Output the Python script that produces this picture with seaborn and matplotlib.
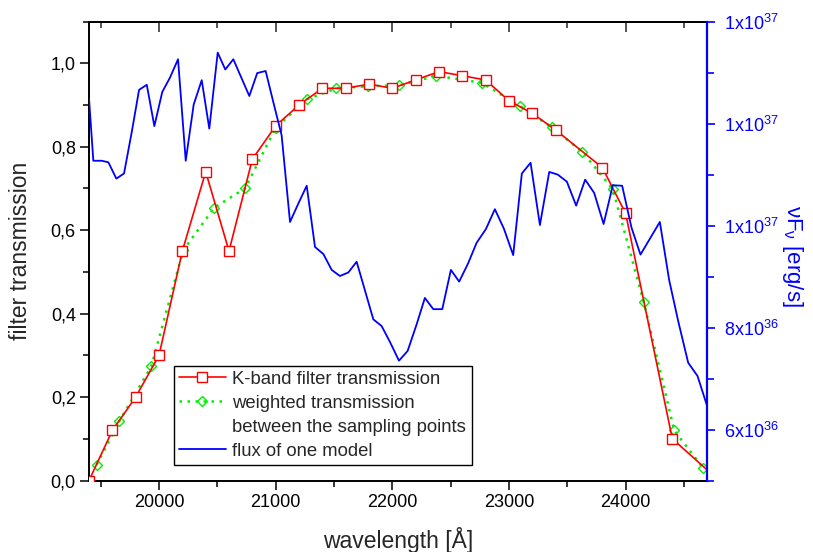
import numpy as np
import pandas as pd
import matplotlib
matplotlib.use("Agg")
import matplotlib.pyplot as plt
import seaborn as sns
from matplotlib.lines import Line2D
from matplotlib.ticker import MultipleLocator, FuncFormatter, FixedLocator

# ---------------- data ----------------
wl_filter = [19400, 19600, 19800, 20000, 20200, 20400, 20600, 20800, 21000, 21200,
             21400, 21600, 21800, 22000, 22200, 22400, 22600, 22800, 23000, 23200,
             23400, 23800, 24000, 24400, 24800]
trans_filter = [0.00, 0.12, 0.20, 0.30, 0.55, 0.74, 0.55, 0.77, 0.85, 0.90,
                0.94, 0.94, 0.95, 0.94, 0.96, 0.98, 0.97, 0.96, 0.91, 0.88,
                0.84, 0.75, 0.64, 0.10, 0.00]

wl_weighted = [19466, 19660, 19934, 20208, 20474, 20737, 21000, 21268, 21520, 21794,
               22057, 22378, 22768, 23095, 23365, 23628, 23890, 24155, 24416, 24664]
trans_weighted = [0.038, 0.142, 0.274, 0.552, 0.654, 0.700, 0.845, 0.914, 0.940, 0.945,
                  0.947, 0.970, 0.953, 0.897, 0.847, 0.788, 0.698, 0.428, 0.120, 0.030]

wl_flux = [19400, 19437, 19509, 19566, 19634, 19700, 19766, 19829, 19895, 19960,
           20028, 20094, 20163, 20229, 20297, 20366, 20431, 20503, 20568, 20637,
           20774, 20842, 20914, 20983, 21051, 21123, 21194, 21266, 21337, 21409,
           21480, 21551, 21623, 21694, 21765, 21837, 21908, 21979, 22057, 22131,
           22208, 22279, 22351, 22428, 22502, 22573, 22650, 22722, 22802, 22879,
           22956, 23036, 23110, 23185, 23265, 23345, 23417, 23496, 23576, 23653,
           23730, 23811, 23890, 23970, 24050, 24127, 24210, 24293, 24373, 24450,
           24536, 24616, 24700]
flux_e36 = [12.49, 11.27, 11.27, 11.24, 10.92, 11.02, 11.83, 12.66, 12.76, 11.95,
            12.62, 12.90, 13.26, 11.27, 12.37, 12.85, 11.90, 13.39, 13.06, 13.26,
            12.54, 12.99, 13.03, 12.39, 11.77, 10.07, 10.43, 10.78, 9.58, 9.44,
            9.13, 9.01, 9.08, 9.29, 8.73, 8.16, 8.03, 7.72, 7.35, 7.54,
            8.06, 8.58, 8.36, 8.36, 9.13, 8.90, 9.26, 9.66, 9.93, 10.32,
            9.94, 9.42, 11.02, 11.23, 10.01, 11.05, 11.00, 10.86, 10.39, 10.90,
            10.64, 10.03, 10.79, 10.78, 9.96, 9.43, 9.75, 10.07, 8.93, 8.13,
            7.31, 7.05, 6.45]

x_ticks = [20000, 21000, 22000, 23000, 24000]
left_ticks = [0.0, 0.2, 0.4, 0.6, 0.8, 1.0]
right_ticks = [6e36, 8e36, 1e37, 1.2e37, 1.4e37]

legend_labels = ["K-band filter transmission", "weighted transmission",
                 "between the sampling points", "flux of one model"]

RED = "#ff0000"
GREEN = "#00ee00"
BLUE = "#0000ff"

# ---------------- style ----------------
sns.set_style("white")
plt.rcParams["font.family"] = ["Liberation Sans", "DejaVu Sans"]
plt.rcParams["mathtext.fontset"] = "custom"
plt.rcParams["mathtext.rm"] = "Liberation Sans"
plt.rcParams["mathtext.it"] = "Liberation Sans:italic"
plt.rcParams["mathtext.default"] = "regular"

fig = plt.figure(figsize=(8.13, 5.52), dpi=100)
ax = fig.add_axes([0.1095, 0.1295, 0.7605, 0.8315])
ax2 = ax.twinx()

df_filter = pd.DataFrame({"wl": wl_filter, "t": trans_filter})
df_weighted = pd.DataFrame({"wl": wl_weighted, "t": trans_weighted})
df_flux = pd.DataFrame({"wl": wl_flux, "f": np.array(flux_e36) * 1e36})

sns.lineplot(data=df_weighted, x="wl", y="t", ax=ax, color=GREEN, linewidth=1.8,
             linestyle=(0, (1, 2.2)), marker="D", markersize=5.5,
             markerfacecolor="none", markeredgecolor=GREEN, markeredgewidth=1.0,
             estimator=None, sort=False, zorder=3)
sns.lineplot(data=df_filter, x="wl", y="t", ax=ax, color=RED, linewidth=1.2,
             marker="s", markersize=6.7, markerfacecolor="white",
             markeredgecolor=RED, markeredgewidth=1.0,
             estimator=None, sort=False, zorder=4)
sns.lineplot(data=df_flux, x="wl", y="f", ax=ax2, color=BLUE, linewidth=1.3,
             estimator=None, sort=False)

# ---------------- axes ----------------
ax.set_xlim(19400, 24700)
ax.set_ylim(0, 1.1)
ax2.set_ylim(5e36, 1.4e37)

ax.xaxis.set_major_locator(FixedLocator(x_ticks))
ax.xaxis.set_minor_locator(MultipleLocator(500))
ax.yaxis.set_major_locator(FixedLocator(left_ticks))
ax.yaxis.set_minor_locator(MultipleLocator(0.1))
ax.yaxis.set_major_formatter(FuncFormatter(lambda v, p: f"{v:.1f}".replace(".", ",")))

ax.tick_params(axis="x", which="both", direction="out", bottom=True, top=False,
               labelsize=13, width=1.1, color="black", labelcolor="black")
ax.tick_params(axis="x", which="major", length=6.5, pad=3)
ax.tick_params(axis="x", which="minor", length=4)
ax.tick_params(axis="y", which="both", direction="out", left=True, right=False,
               labelsize=13, width=1.1, color="black", labelcolor="black")
ax.tick_params(axis="y", which="major", length=6.5, pad=3)
ax.tick_params(axis="y", which="minor", length=4)

sec = ax.secondary_xaxis("top")
sec.xaxis.set_major_locator(FixedLocator(x_ticks))
sec.xaxis.set_minor_locator(MultipleLocator(500))
sec.tick_params(axis="x", which="both", direction="in", labeltop=False, width=1.1)
sec.tick_params(axis="x", which="major", length=7)
sec.tick_params(axis="x", which="minor", length=4)
sec.spines["top"].set_linewidth(1.4)
sec.spines["top"].set_color("black")


def sci_fmt(v, p):
    e = int(np.floor(np.log10(v)))
    m = int(round(v / 10 ** e))
    return r"$\mathregular{%dx10^{%d}}$" % (m, e)


ax2.yaxis.set_major_locator(FixedLocator(right_ticks))
ax2.yaxis.set_minor_locator(MultipleLocator(1e36))
ax2.yaxis.set_major_formatter(FuncFormatter(sci_fmt))
ax2.tick_params(axis="y", which="both", direction="out", right=True, left=False,
                labelsize=13, width=1.2, color=BLUE, labelcolor=BLUE)
ax2.tick_params(axis="y", which="major", length=6, pad=6)
ax2.tick_params(axis="y", which="minor", length=5)

for s in ["left", "bottom", "top"]:
    ax.spines[s].set_linewidth(1.4)
    ax.spines[s].set_color("black")
ax.spines["right"].set_visible(False)
for s in ["left", "bottom", "top"]:
    ax2.spines[s].set_visible(False)
ax2.spines["right"].set_color(BLUE)
ax2.spines["right"].set_linewidth(1.6)

ax.set_xlabel("wavelength [Å]", fontsize=16.5)
ax.set_ylabel("filter transmission", fontsize=16.5)
ax.xaxis.set_label_coords(0.5, -0.102)
ax.yaxis.set_label_coords(-0.093, 0.5)
ax2.set_ylabel(r"$\nu$F$_\nu$ [erg/s]", fontsize=16, color=BLUE,
               rotation=270, va="bottom")
ax2.yaxis.set_label_coords(1.118, 0.49)

ax.grid(False)
ax2.grid(False)

# ---------------- legend ----------------
handles = [
    Line2D([], [], color=RED, linewidth=1.2, marker="s", markersize=6.7,
           markerfacecolor="white", markeredgecolor=RED, markeredgewidth=1.0),
    Line2D([], [], color=GREEN, linewidth=1.8, linestyle=(0, (1, 2.2)), marker="D",
           markersize=5.5, markerfacecolor="none", markeredgecolor=GREEN,
           markeredgewidth=1.0),
    Line2D([], [], color="none"),
    Line2D([], [], color=BLUE, linewidth=1.3),
]
leg = ax2.legend(handles, legend_labels, loc="lower left",
                 bbox_to_anchor=(0.137, 0.034), borderaxespad=0,
                 prop={"size": 13.3}, frameon=True, fancybox=False,
                 edgecolor="black", framealpha=1, handlelength=2.55,
                 handletextpad=0.35, labelspacing=0.38, borderpad=0.28)
leg.get_frame().set_linewidth(1.0)

fig.savefig("out.png", dpi=100)
